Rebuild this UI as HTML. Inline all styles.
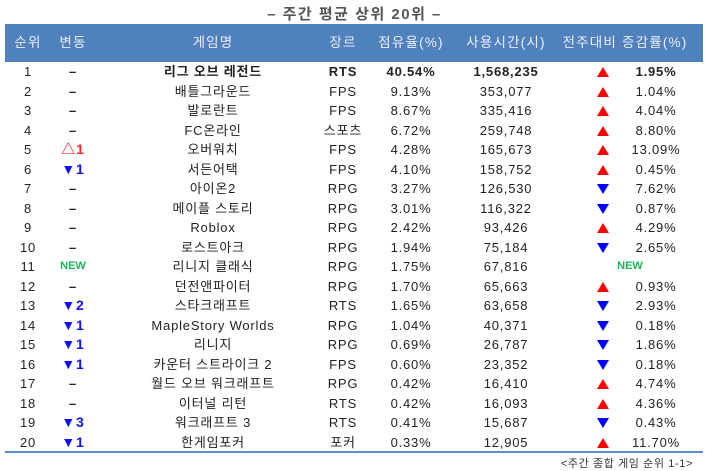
<!DOCTYPE html>
<html><head><meta charset="utf-8"><style>
body{margin:0;width:709px;height:471px;background:#fff;position:relative;overflow:hidden;font-family:"Liberation Sans","Noto Sans CJK KR",sans-serif;color:#222}
.t{position:absolute;top:3px;left:0;width:709px;text-align:center;font-size:15px;color:#555;font-weight:bold;letter-spacing:1.5px}
.h{position:absolute;left:5px;top:24px;width:698px;height:38px;background:#4f81bd}
.r{position:absolute;left:0;width:709px;height:19.5px;font-size:13px;line-height:19.5px;letter-spacing:0.8px}
.c{position:absolute;top:0;width:160px;margin-left:-80px;text-align:center;white-space:nowrap}
.h .c{line-height:38px;color:#eef;font-size:13.5px;top:0;letter-spacing:1.2px}
.up{display:inline-block;width:0;height:0;border-left:6px solid transparent;border-right:6px solid transparent;border-bottom:10px solid #f00;vertical-align:-1px}
.dn{display:inline-block;width:0;height:0;border-left:6px solid transparent;border-right:6px solid transparent;border-top:10px solid #00f;vertical-align:-1px}
.b{font-weight:bold}
.bl{color:#11f;font-weight:bold;font-size:14px}.rd{color:#f22;font-weight:bold;font-size:14px}.nw{color:#1bb55a;font-weight:bold;font-size:11px;letter-spacing:0}
.d{font-weight:bold}
.ln{position:absolute;left:5px;top:451px;width:698px;height:2px;background:#5b8ccc}
.f{position:absolute;right:16px;top:455px;font-size:11px;color:#333;letter-spacing:0.6px}
</style></head><body>
<div class="t">– 주간 평균 상위 20위 –</div>
<div class="h">
<span class="c" style="left:23px">순위</span><span class="c" style="left:68px">변동</span><span class="c" style="left:208px">게임명</span><span class="c" style="left:338px">장르</span><span class="c" style="left:406px">점유율(%)</span><span class="c" style="left:501px">사용시간(시)</span><span class="c" style="left:620px">전주대비 증감률(%)</span>
</div>

<div class="r b" style="top:62px"><span class="c" style="left:28px;font-weight:normal">1</span><span class="c d" style="left:73px">–</span><span class="c" style="left:213px">리그 오브 레전드</span><span class="c" style="left:343px">RTS</span><span class="c" style="left:411px">40.54%</span><span class="c" style="left:506px">1,568,235</span><span class="c" style="left:603px"><i class="up"></i></span><span class="c" style="left:656px">1.95%</span></div>
<div class="r" style="top:81.5px"><span class="c" style="left:28px">2</span><span class="c d" style="left:73px">–</span><span class="c" style="left:213px">배틀그라운드</span><span class="c" style="left:343px">FPS</span><span class="c" style="left:411px">9.13%</span><span class="c" style="left:506px">353,077</span><span class="c" style="left:603px"><i class="up"></i></span><span class="c" style="left:656px">1.04%</span></div>
<div class="r" style="top:101px"><span class="c" style="left:28px">3</span><span class="c d" style="left:73px">–</span><span class="c" style="left:213px">발로란트</span><span class="c" style="left:343px">FPS</span><span class="c" style="left:411px">8.67%</span><span class="c" style="left:506px">335,416</span><span class="c" style="left:603px"><i class="up"></i></span><span class="c" style="left:656px">4.04%</span></div>
<div class="r" style="top:120.5px"><span class="c" style="left:28px">4</span><span class="c d" style="left:73px">–</span><span class="c" style="left:213px">FC온라인</span><span class="c" style="left:343px">스포츠</span><span class="c" style="left:411px">6.72%</span><span class="c" style="left:506px">259,748</span><span class="c" style="left:603px"><i class="up"></i></span><span class="c" style="left:656px">8.80%</span></div>
<div class="r" style="top:140px"><span class="c" style="left:28px">5</span><span class="c rd" style="left:73px">△1</span><span class="c" style="left:213px">오버워치</span><span class="c" style="left:343px">FPS</span><span class="c" style="left:411px">4.28%</span><span class="c" style="left:506px">165,673</span><span class="c" style="left:603px"><i class="up"></i></span><span class="c" style="left:656px">13.09%</span></div>
<div class="r" style="top:159.5px"><span class="c" style="left:28px">6</span><span class="c bl" style="left:73px">▼1</span><span class="c" style="left:213px">서든어택</span><span class="c" style="left:343px">FPS</span><span class="c" style="left:411px">4.10%</span><span class="c" style="left:506px">158,752</span><span class="c" style="left:603px"><i class="up"></i></span><span class="c" style="left:656px">0.45%</span></div>
<div class="r" style="top:179px"><span class="c" style="left:28px">7</span><span class="c d" style="left:73px">–</span><span class="c" style="left:213px">아이온2</span><span class="c" style="left:343px">RPG</span><span class="c" style="left:411px">3.27%</span><span class="c" style="left:506px">126,530</span><span class="c" style="left:603px"><i class="dn"></i></span><span class="c" style="left:656px">7.62%</span></div>
<div class="r" style="top:198.5px"><span class="c" style="left:28px">8</span><span class="c d" style="left:73px">–</span><span class="c" style="left:213px">메이플 스토리</span><span class="c" style="left:343px">RPG</span><span class="c" style="left:411px">3.01%</span><span class="c" style="left:506px">116,322</span><span class="c" style="left:603px"><i class="dn"></i></span><span class="c" style="left:656px">0.87%</span></div>
<div class="r" style="top:218px"><span class="c" style="left:28px">9</span><span class="c d" style="left:73px">–</span><span class="c" style="left:213px">Roblox</span><span class="c" style="left:343px">RPG</span><span class="c" style="left:411px">2.42%</span><span class="c" style="left:506px">93,426</span><span class="c" style="left:603px"><i class="up"></i></span><span class="c" style="left:656px">4.29%</span></div>
<div class="r" style="top:237.5px"><span class="c" style="left:28px">10</span><span class="c d" style="left:73px">–</span><span class="c" style="left:213px">로스트아크</span><span class="c" style="left:343px">RPG</span><span class="c" style="left:411px">1.94%</span><span class="c" style="left:506px">75,184</span><span class="c" style="left:603px"><i class="dn"></i></span><span class="c" style="left:656px">2.65%</span></div>
<div class="r" style="top:257px"><span class="c" style="left:28px">11</span><span class="c nw" style="left:73px">NEW</span><span class="c" style="left:213px">리니지 클래식</span><span class="c" style="left:343px">RPG</span><span class="c" style="left:411px">1.75%</span><span class="c" style="left:506px">67,816</span><span class="c nw" style="left:630px">NEW</span></div>
<div class="r" style="top:276.5px"><span class="c" style="left:28px">12</span><span class="c d" style="left:73px">–</span><span class="c" style="left:213px">던전앤파이터</span><span class="c" style="left:343px">RPG</span><span class="c" style="left:411px">1.70%</span><span class="c" style="left:506px">65,663</span><span class="c" style="left:603px"><i class="up"></i></span><span class="c" style="left:656px">0.93%</span></div>
<div class="r" style="top:296px"><span class="c" style="left:28px">13</span><span class="c bl" style="left:73px">▼2</span><span class="c" style="left:213px">스타크래프트</span><span class="c" style="left:343px">RTS</span><span class="c" style="left:411px">1.65%</span><span class="c" style="left:506px">63,658</span><span class="c" style="left:603px"><i class="dn"></i></span><span class="c" style="left:656px">2.93%</span></div>
<div class="r" style="top:315.5px"><span class="c" style="left:28px">14</span><span class="c bl" style="left:73px">▼1</span><span class="c" style="left:213px">MapleStory Worlds</span><span class="c" style="left:343px">RPG</span><span class="c" style="left:411px">1.04%</span><span class="c" style="left:506px">40,371</span><span class="c" style="left:603px"><i class="dn"></i></span><span class="c" style="left:656px">0.18%</span></div>
<div class="r" style="top:335px"><span class="c" style="left:28px">15</span><span class="c bl" style="left:73px">▼1</span><span class="c" style="left:213px">리니지</span><span class="c" style="left:343px">RPG</span><span class="c" style="left:411px">0.69%</span><span class="c" style="left:506px">26,787</span><span class="c" style="left:603px"><i class="dn"></i></span><span class="c" style="left:656px">1.86%</span></div>
<div class="r" style="top:354.5px"><span class="c" style="left:28px">16</span><span class="c bl" style="left:73px">▼1</span><span class="c" style="left:213px">카운터 스트라이크 2</span><span class="c" style="left:343px">FPS</span><span class="c" style="left:411px">0.60%</span><span class="c" style="left:506px">23,352</span><span class="c" style="left:603px"><i class="dn"></i></span><span class="c" style="left:656px">0.18%</span></div>
<div class="r" style="top:374px"><span class="c" style="left:28px">17</span><span class="c d" style="left:73px">–</span><span class="c" style="left:213px">월드 오브 워크래프트</span><span class="c" style="left:343px">RPG</span><span class="c" style="left:411px">0.42%</span><span class="c" style="left:506px">16,410</span><span class="c" style="left:603px"><i class="up"></i></span><span class="c" style="left:656px">4.74%</span></div>
<div class="r" style="top:393.5px"><span class="c" style="left:28px">18</span><span class="c d" style="left:73px">–</span><span class="c" style="left:213px">이터널 리턴</span><span class="c" style="left:343px">RTS</span><span class="c" style="left:411px">0.42%</span><span class="c" style="left:506px">16,093</span><span class="c" style="left:603px"><i class="up"></i></span><span class="c" style="left:656px">4.36%</span></div>
<div class="r" style="top:413px"><span class="c" style="left:28px">19</span><span class="c bl" style="left:73px">▼3</span><span class="c" style="left:213px">워크래프트 3</span><span class="c" style="left:343px">RTS</span><span class="c" style="left:411px">0.41%</span><span class="c" style="left:506px">15,687</span><span class="c" style="left:603px"><i class="dn"></i></span><span class="c" style="left:656px">0.43%</span></div>
<div class="r" style="top:432.5px"><span class="c" style="left:28px">20</span><span class="c bl" style="left:73px">▼1</span><span class="c" style="left:213px">한게임포커</span><span class="c" style="left:343px">포커</span><span class="c" style="left:411px">0.33%</span><span class="c" style="left:506px">12,905</span><span class="c" style="left:603px"><i class="up"></i></span><span class="c" style="left:656px">11.70%</span></div>
<div class="ln"></div>
<div class="f">&lt;주간 종합 게임 순위 1-1&gt;</div>
</body></html>
